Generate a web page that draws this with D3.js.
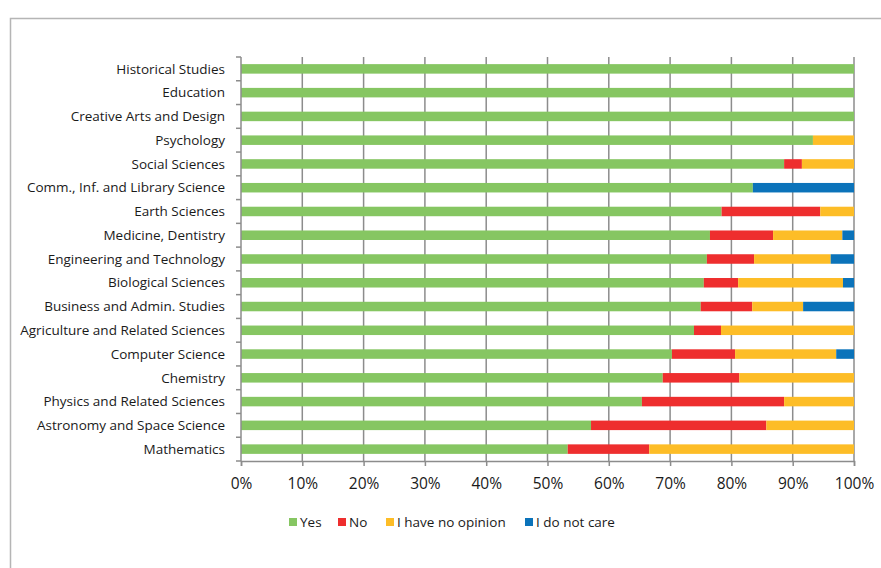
<!DOCTYPE html>
<html><head><meta charset="utf-8">
<script src="https://cdn.jsdelivr.net/npm/d3@7"></script>
<style>body{margin:0;background:#fff}svg{display:block}text{font-family:"Open Sans",sans-serif}</style>
</head><body><svg id="c" width="881" height="568"></svg>
<script>
const categories = ["Historical Studies","Education","Creative Arts and Design","Psychology","Social Sciences","Comm., Inf. and Library Science","Earth Sciences","Medicine, Dentistry","Engineering and Technology","Biological Sciences","Business and Admin. Studies","Agriculture and Related Sciences","Computer Science","Chemistry","Physics and Related Sciences","Astronomy and Space Science","Mathematics"];
const seriesNames = ["Yes","No","I have no opinion","I do not care"];
const yes      = [100,100,100,93.3,88.6,83.5,78.4,76.5,76.0,75.5,75.0,73.9,70.3,68.8,65.4,57.1,53.3];
const no       = [0,0,0,0,2.9,0,16.1,10.3,7.7,5.6,8.4,4.4,10.3,12.5,23.2,28.6,13.3];
const noOpinion= [0,0,0,6.7,8.5,0,5.5,11.3,12.5,17.1,8.3,21.7,16.5,18.7,11.4,14.3,33.4];
const notCare  = [0,0,0,0,0,16.5,0,1.9,3.8,1.8,8.3,0,2.9,0,0,0,0];
const tickValues = [0,10,20,30,40,50,60,70,80,90,100];
const colors = ["#86c662","#ee2e2e","#fdbd27","#0b73ba"];

(function(){
const svg = d3.select("#c");
const pl = 241, pr = 854, pt = 57, pb = 461;
const x = d3.scaleLinear().domain([0,100]).range([pl,pr]);
const y = d3.scaleBand().domain(categories).range([pt,pb]).paddingInner(0.6).paddingOuter(0.3);
const yOuter = d3.scaleBand().domain(categories).range([pt,pb]);

svg.append("path").attr("d","M10.5,568 V18.5 H881").attr("fill","none").attr("stroke","#b5b5b5").attr("stroke-width",1.5);

svg.append("g").selectAll("line").data(tickValues.slice(1)).join("line")
  .attr("x1",d=>x(d)).attr("x2",d=>x(d)).attr("y1",pt).attr("y2",pb)
  .attr("stroke","#8c8c8c").attr("stroke-width",1.5);

const data = categories.map((c,i)=>({cat:c,Yes:yes[i],No:no[i],"I have no opinion":noOpinion[i],"I do not care":notCare[i]}));
const stack = d3.stack().keys(seriesNames)(data);
svg.append("g").selectAll("g").data(stack).join("g").attr("fill",(d,i)=>colors[i])
  .selectAll("rect").data(d=>d).join("rect")
  .attr("x",d=>x(d[0])).attr("width",d=>Math.max(0,x(d[1])-x(d[0])))
  .attr("y",d=>y(d.data.cat)).attr("height",y.bandwidth());

const gy = svg.append("g").attr("transform",`translate(${pl},0)`);
gy.append("line").attr("x1",0).attr("x2",0).attr("y1",pt).attr("y2",pb).attr("stroke","#8c8c8c").attr("stroke-width",1.5);
const bounds = categories.map(c=>yOuter(c)).concat([pb]);
gy.selectAll("line.t").data(bounds).join("line").attr("class","t")
  .attr("x1",-5).attr("x2",0).attr("y1",d=>d).attr("y2",d=>d).attr("stroke","#8c8c8c").attr("stroke-width",1.5);
gy.selectAll("text").data(categories).join("text")
  .attr("x",-16).attr("y",d=>yOuter(d)+yOuter.bandwidth()/2).attr("dy","0.35em")
  .attr("text-anchor","end").attr("font-size",13.5).attr("fill","#1a1a1a").text(d=>d);

const xAxis = d3.axisBottom(x).tickValues(tickValues).tickFormat(d=>d+"%").tickSize(5).tickPadding(12);
const gx = svg.append("g").attr("transform",`translate(0,${pb})`).call(xAxis);
gx.select(".domain").attr("stroke","#8c8c8c").attr("stroke-width",1.5);
gx.selectAll(".tick line").attr("stroke","#8c8c8c").attr("stroke-width",1.5);
gx.selectAll(".tick text").attr("font-size",15.5).attr("fill","#1a1a1a").attr("font-family","'Liberation Sans',Arial,sans-serif");

const legX = [289,338,386,525];
const lg = svg.append("g").selectAll("g").data(seriesNames).join("g")
  .attr("transform",(d,i)=>`translate(${legX[i]},522)`);
lg.append("rect").attr("x",0).attr("y",-4).attr("width",8).attr("height",8).attr("fill",(d,i)=>colors[i]);
lg.append("text").attr("x",11).attr("y",0).attr("dy","0.35em").attr("font-size",13.5).attr("fill","#1a1a1a").text(d=>d);
})();
</script></body></html>
